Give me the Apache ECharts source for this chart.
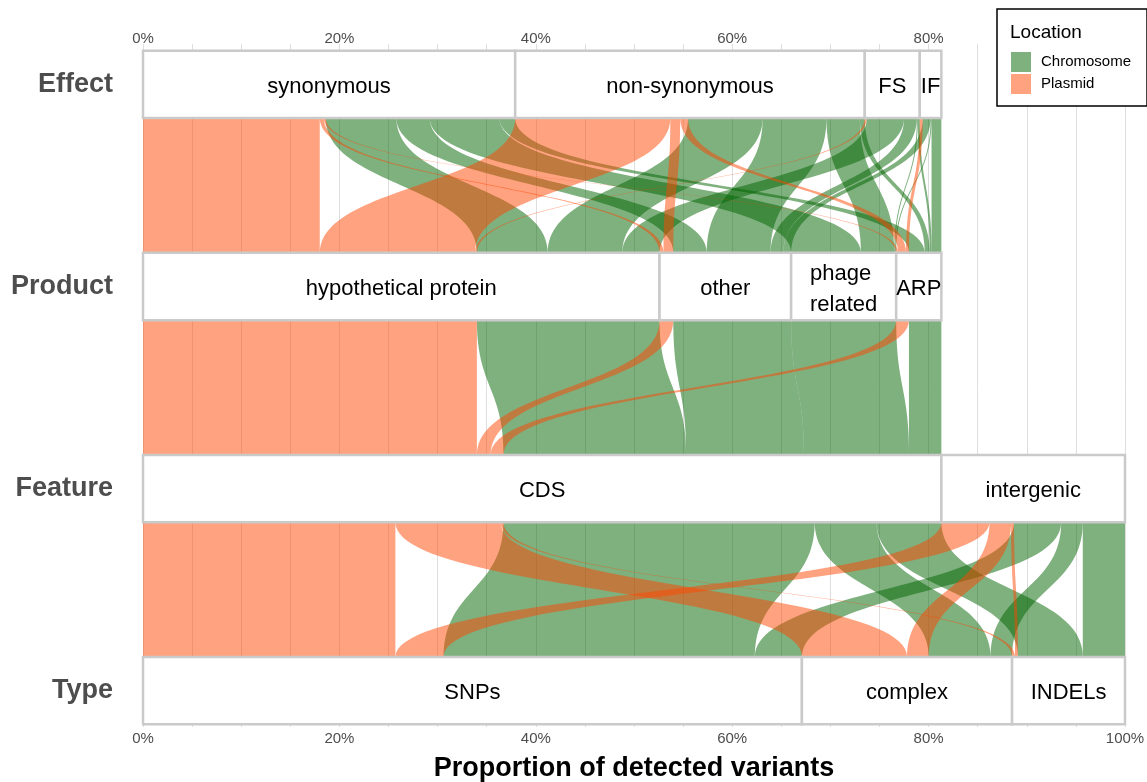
<!DOCTYPE html>
<html><head><meta charset="utf-8">
<script src="https://cdn.jsdelivr.net/npm/echarts@6/dist/echarts.min.js"></script>
<style>html,body{margin:0;padding:0;background:#fff}#c{width:1147px;height:782px}</style>
</head><body><div id="c"></div>
<script>
// ---------------- data ----------------
const axisNames = ['Effect', 'Product', 'Feature', 'Type'];
const effectStrata = ['synonymous', 'non-synonymous', 'FS', 'IF'];
const productStrata = ['hypothetical protein', 'other', 'phage related', 'ARP'];
const featureStrata = ['CDS', 'intergenic'];
const typeStrata = ['SNPs', 'complex', 'INDELs'];
const locations = ['Chromosome', 'Plasmid'];
const tickValues = [0, 20, 40, 60, 80, 100];

// [from stratum, to stratum, location, % of detected variants]
const flowsEffectProduct = [
  ['synonymous', 'hypothetical protein', 'Plasmid', 18.0],
  ['synonymous', 'other', 'Plasmid', 0.4],
  ['synonymous', 'ARP', 'Plasmid', 0.2],
  ['synonymous', 'hypothetical protein', 'Chromosome', 7.2],
  ['synonymous', 'other', 'Chromosome', 3.4],
  ['synonymous', 'phage related', 'Chromosome', 7.1],
  ['synonymous', 'ARP', 'Chromosome', 1.6],
  ['non-synonymous', 'hypothetical protein', 'Plasmid', 15.8],
  ['non-synonymous', 'other', 'Plasmid', 1.0],
  ['non-synonymous', 'ARP', 'Plasmid', 0.8],
  ['non-synonymous', 'hypothetical protein', 'Chromosome', 7.6],
  ['non-synonymous', 'other', 'Chromosome', 6.5],
  ['non-synonymous', 'phage related', 'Chromosome', 3.4],
  ['non-synonymous', 'ARP', 'Chromosome', 0.5],
  ['FS', 'hypothetical protein', 'Plasmid', 0.2],
  ['FS', 'hypothetical protein', 'Chromosome', 3.8],
  ['FS', 'other', 'Chromosome', 1.3],
  ['FS', 'phage related', 'Chromosome', 0.1],
  ['FS', 'ARP', 'Chromosome', 0.2],
  ['IF', 'ARP', 'Plasmid', 0.3],
  ['IF', 'other', 'Chromosome', 0.8],
  ['IF', 'phage related', 'Chromosome', 0.1],
  ['IF', 'ARP', 'Chromosome', 1.0]
];
const flowsProductFeature = [
  ['hypothetical protein', 'CDS', 'Plasmid', 34.0],
  ['hypothetical protein', 'CDS', 'Chromosome', 18.6],
  ['other', 'CDS', 'Plasmid', 1.4],
  ['other', 'CDS', 'Chromosome', 12.0],
  ['phage related', 'CDS', 'Chromosome', 10.7],
  ['ARP', 'CDS', 'Plasmid', 1.3],
  ['ARP', 'CDS', 'Chromosome', 3.3]
];
const flowsFeatureType = [
  ['CDS', 'SNPs', 'Plasmid', 25.7],
  ['CDS', 'complex', 'Plasmid', 10.7],
  ['CDS', 'INDELs', 'Plasmid', 0.3],
  ['CDS', 'SNPs', 'Chromosome', 31.7],
  ['CDS', 'complex', 'Chromosome', 6.3],
  ['CDS', 'INDELs', 'Chromosome', 6.6],
  ['intergenic', 'SNPs', 'Plasmid', 4.9],
  ['intergenic', 'complex', 'Plasmid', 2.2],
  ['intergenic', 'INDELs', 'Plasmid', 0.3],
  ['intergenic', 'SNPs', 'Chromosome', 4.8],
  ['intergenic', 'complex', 'Chromosome', 2.2],
  ['intergenic', 'INDELs', 'Chromosome', 4.3]
];

// ---------------- layout helpers ----------------
const FONT = '"Liberation Sans", Arial, Helvetica, sans-serif';
const COLORS = { Chromosome: 'rgba(0,100,0,0.5)', Plasmid: 'rgba(255,69,0,0.5)' };
const stackOrder = ['Plasmid', 'Chromosome'];
const axesStrata = [effectStrata, productStrata, featureStrata, typeStrata];
const panels = [flowsEffectProduct, flowsProductFeature, flowsFeatureType];
const HALF = 1 / 6;

function totals(flows, side, strata) {
  const t = {};
  strata.forEach(s => t[s] = 0);
  flows.forEach(f => { t[f[side]] += f[3]; });
  return t;
}
function starts(tot, strata) {
  const st = {}; let c = 0;
  strata.forEach(s => { st[s] = c; c += tot[s]; });
  return st;
}
// each axis takes its stratum sizes from the panel below it (the last one from the panel above)
const axisTotals = [
  totals(panels[0], 0, axesStrata[0]),
  totals(panels[1], 0, axesStrata[1]),
  totals(panels[2], 0, axesStrata[2]),
  totals(panels[2], 1, axesStrata[3])
];
const axisStarts = axisTotals.map((t, i) => starts(t, axesStrata[i]));

const flowData = { Chromosome: [], Plasmid: [] };
panels.forEach((flows, p) => {
  const sA = axesStrata[p], sB = axesStrata[p + 1];
  const idx = flows.map((f, i) => i);
  const rank = l => stackOrder.indexOf(l);
  const posA = {}, posB = {};
  const curA = Object.assign({}, axisStarts[p]);
  const curB = Object.assign({}, axisStarts[p + 1]);
  idx.slice().sort((a, b) => {
    const fa = flows[a], fb = flows[b];
    return sA.indexOf(fa[0]) - sA.indexOf(fb[0]) || rank(fa[2]) - rank(fb[2]) || sB.indexOf(fa[1]) - sB.indexOf(fb[1]);
  }).forEach(i => { const f = flows[i]; posA[i] = [curA[f[0]], curA[f[0]] + f[3]]; curA[f[0]] += f[3]; });
  idx.slice().sort((a, b) => {
    const fa = flows[a], fb = flows[b];
    return sB.indexOf(fa[1]) - sB.indexOf(fb[1]) || rank(fa[2]) - rank(fb[2]) || sA.indexOf(fa[0]) - sA.indexOf(fb[0]);
  }).forEach(i => { const f = flows[i]; posB[i] = [curB[f[1]], curB[f[1]] + f[3]]; curB[f[1]] += f[3]; });
  flows.forEach((f, i) => {
    flowData[f[2]].push([posA[i][0], posA[i][1], posB[i][0], posB[i][1], p + 1 + HALF, p + 2 - HALF]);
  });
});

const strataData = [];
const strataLabels = [];
axesStrata.forEach((strata, a) => {
  strata.forEach(s => {
    strataData.push([axisStarts[a][s], axisStarts[a][s] + axisTotals[a][s], a + 1]);
    strataLabels.push(s);
  });
});

// ---------------- rendering ----------------
function bez(p0, p1, p2, p3, t) {
  const u = 1 - t;
  return [
    u * u * u * p0[0] + 3 * u * u * t * p1[0] + 3 * u * t * t * p2[0] + t * t * t * p3[0],
    u * u * u * p0[1] + 3 * u * u * t * p1[1] + 3 * u * t * t * p2[1] + t * t * t * p3[1]
  ];
}
function flowRenderer(loc) {
  return function (params, api) {
    const a0 = api.coord([api.value(0), api.value(4)]);
    const a1 = api.coord([api.value(1), api.value(4)]);
    const b0 = api.coord([api.value(2), api.value(5)]);
    const b1 = api.coord([api.value(3), api.value(5)]);
    const h = b0[1] - a0[1];
    const k = 0.5 * h;
    const N = 48;
    const pts = [];
    for (let i = 0; i <= N; i++) pts.push(bez(a0, [a0[0], a0[1] + k], [b0[0], b0[1] - k], b0, i / N));
    for (let i = 0; i <= N; i++) pts.push(bez(b1, [b1[0], b1[1] - k], [a1[0], a1[1] + k], a1, i / N));
    return { type: 'polygon', shape: { points: pts }, style: { fill: COLORS[loc] } };
  };
}
function strataRenderer(params, api) {
  const s = api.value(0), e = api.value(1), y = api.value(2);
  const p0 = api.coord([s, y - HALF]);
  const p1 = api.coord([e, y + HALF]);
  const label = strataLabels[params.dataIndex];
  const w = p1[0] - p0[0];
  const txtStyle = {
    text: label, fill: '#000', font: '22px ' + FONT, align: 'center', verticalAlign: 'middle', lineHeight: 31
  };
  if (label.indexOf(' ') >= 0) { txtStyle.width = w - 4; txtStyle.overflow = 'break'; }
  return {
    type: 'group',
    children: [
      { type: 'rect', shape: { x: p0[0], y: p0[1], width: w, height: p1[1] - p0[1] },
        style: { fill: '#fff', stroke: '#cacaca', lineWidth: 2.5 } },
      { type: 'text', x: (p0[0] + p1[0]) / 2, y: (p0[1] + p1[1]) / 2 + 2.5, style: txtStyle }
    ]
  };
}

const chart = echarts.init(document.getElementById('c'), null, { renderer: 'canvas' });
chart.setOption({
  animation: false,
  backgroundColor: '#fff',
  textStyle: { fontFamily: FONT },
  grid: { left: 143, right: 22, top: 44, bottom: 55, containLabel: false, outerBoundsMode: 'none' },
  xAxis: [
    {
      type: 'value', position: 'bottom', min: 0, max: 100, interval: 5,
      axisLine: { show: false }, axisTick: { show: false },
      splitLine: { show: true, lineStyle: { color: '#dedede', width: 1 } },
      axisLabel: {
        customValues: tickValues, formatter: v => v + '%',
        fontSize: 15, color: '#4d4d4d', margin: 4, fontFamily: FONT
      },
      name: 'Proportion of detected variants', nameLocation: 'middle', nameGap: 28,
      nameTextStyle: { fontSize: 27, fontWeight: 'bold', color: '#000', fontFamily: FONT, verticalAlign: 'top' }
    },
    {
      type: 'value', position: 'top', min: 0, max: 100, interval: 5,
      axisLine: { show: false }, axisTick: { show: false }, splitLine: { show: false },
      axisLabel: {
        customValues: tickValues.filter(v => v < 100), formatter: v => v + '%',
        fontSize: 15, color: '#4d4d4d', margin: -2, fontFamily: FONT
      }
    }
  ],
  yAxis: {
    type: 'value', min: 0.8, max: 4.18, inverse: true,
    axisLine: { show: false }, axisTick: { show: false }, splitLine: { show: false },
    axisLabel: {
      customValues: [1, 2, 3, 4], formatter: v => axisNames[Math.round(v) - 1],
      fontSize: 27, fontWeight: 'bold', color: '#4d4d4d', margin: 30, fontFamily: FONT,
      padding: [5, 0, 0, 0]
    }
  },
  legend: {
    data: locations, orient: 'vertical', left: 997, top: 9,
    backgroundColor: '#fff', borderColor: '#000', borderWidth: 1.5,
    padding: [43, 16, 12, 14], itemGap: 2, itemWidth: 20, itemHeight: 20, icon: 'rect',
    textStyle: { fontSize: 15, color: '#000', fontFamily: FONT, padding: [0, 0, 0, 5] },
    selectedMode: false
  },
  graphic: [
    { type: 'text', left: 1010, top: 23, z: 100,
      style: { text: 'Location', font: '19px ' + FONT, fill: '#000' } }
  ],
  series: [
    { type: 'custom', name: 'Chromosome', renderItem: flowRenderer('Chromosome'), data: flowData.Chromosome,
      itemStyle: { color: COLORS.Chromosome }, encode: { x: [0, 1, 2, 3], y: [4, 5] }, silent: true, z: 2 },
    { type: 'custom', name: 'Plasmid', renderItem: flowRenderer('Plasmid'), data: flowData.Plasmid,
      itemStyle: { color: COLORS.Plasmid }, encode: { x: [0, 1, 2, 3], y: [4, 5] }, silent: true, z: 3 },
    { type: 'custom', name: 'strata', renderItem: strataRenderer, data: strataData,
      encode: { x: [0, 1], y: 2 }, silent: true, z: 4 }
  ]
});
</script></body></html>
